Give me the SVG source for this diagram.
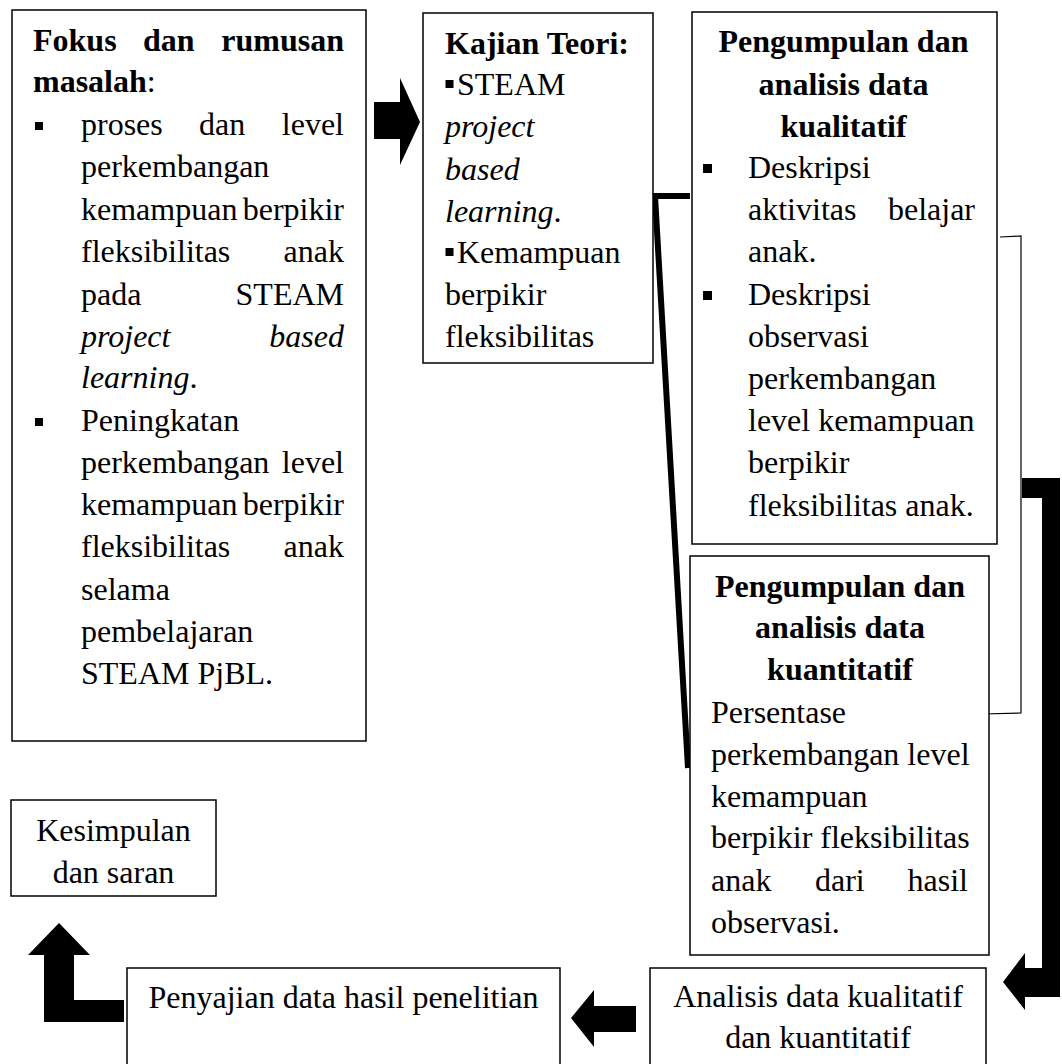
<svg xmlns="http://www.w3.org/2000/svg" width="1062" height="1064" viewBox="0 0 1062 1064">
<style>
.t{font-family:"Liberation Serif","Times New Roman",serif;font-size:32px;fill:#000}
.b{font-weight:bold}
.i{font-style:italic}
.e{text-anchor:end}
.m{text-anchor:middle}
.box{fill:#fff;stroke:#000;stroke-width:1.5}
.bul{fill:#000}
.thick{fill:none;stroke:#000;stroke-width:6;stroke-linejoin:miter}
.thin{fill:none;stroke:#000;stroke-width:1.2}
.arr{fill:#000}
</style>
<rect width="1062" height="1064" fill="#fff"/>

<g id="connectors">
  <polygon class="arr" points="374,102 400,102 400,78 420,122 400,165 400,139 374,139"/>
  <path class="thick" d="M690,196 L655,196 L688,768"/>
  <polyline class="thin" points="1000,237 1021,236 1021,713 982,714"/>
  <polygon class="arr" points="1022,478 1060,478 1060,997 1025,997 1025,1010 1003,982 1025,953 1025,968 1042,968 1042,498 1022,498"/>
  <polygon class="arr" points="636,1006 594,1006 594,990 571,1018 594,1047 594,1032 636,1032"/>
  <polygon class="arr" points="59,923 90,955 74,955 74,1000 124,1000 124,1022 44,1022 44,955 28,955"/>
</g>

<g id="node-fokus">
  <rect class="box" x="12" y="10" width="354" height="731"/>
  <text class="t b" x="33" y="51">Fokus</text>
  <text class="t b" x="143" y="51">dan</text>
  <text class="t b e" x="344" y="51">rumusan</text>
  <text class="t" x="33" y="92"><tspan class="b">masalah</tspan>:</text>
  <rect class="bul" x="35" y="122" width="8" height="8"/>
  <text class="t" x="81" y="135">proses</text>
  <text class="t" x="199" y="135">dan</text>
  <text class="t e" x="344" y="135">level</text>
  <text class="t" x="81" y="177">perkembangan</text>
  <text class="t" x="81" y="220">kemampuan</text>
  <text class="t e" x="344" y="220">berpikir</text>
  <text class="t" x="81" y="262">fleksibilitas</text>
  <text class="t e" x="344" y="262">anak</text>
  <text class="t" x="81" y="305">pada</text>
  <text class="t e" x="344" y="305">STEAM</text>
  <text class="t i" x="81" y="347">project</text>
  <text class="t i e" x="344" y="347">based</text>
  <text class="t" x="81" y="388"><tspan class="i">learning</tspan>.</text>
  <rect class="bul" x="35" y="418" width="8" height="8"/>
  <text class="t" x="81" y="431">Peningkatan</text>
  <text class="t" x="81" y="473">perkembangan</text>
  <text class="t e" x="344" y="473">level</text>
  <text class="t" x="81" y="515">kemampuan</text>
  <text class="t e" x="344" y="515">berpikir</text>
  <text class="t" x="81" y="557">fleksibilitas</text>
  <text class="t e" x="344" y="557">anak</text>
  <text class="t" x="81" y="600">selama</text>
  <text class="t" x="81" y="642">pembelajaran</text>
  <text class="t" x="81" y="684">STEAM PjBL.</text>
</g>

<g id="node-kajian">
  <rect class="box" x="423" y="13" width="230" height="350"/>
  <text class="t b" x="445" y="54">Kajian Teori:</text>
  <rect class="bul" x="445.5" y="80" width="8" height="8"/>
  <text class="t" x="457" y="95">STEAM</text>
  <text class="t i" x="445" y="137">project</text>
  <text class="t i" x="445" y="180">based</text>
  <text class="t" x="445" y="222"><tspan class="i">learning</tspan>.</text>
  <rect class="bul" x="445.5" y="248" width="8" height="8"/>
  <text class="t" x="457" y="263">Kemampuan</text>
  <text class="t" x="445" y="305">berpikir</text>
  <text class="t" x="445" y="347">fleksibilitas</text>
</g>

<g id="node-kualitatif">
  <rect class="box" x="692" y="12" width="305" height="532"/>
  <text class="t b m" x="843.5" y="52">Pengumpulan dan</text>
  <text class="t b m" x="843.5" y="95">analisis data</text>
  <text class="t b m" x="843.5" y="137">kualitatif</text>
  <rect class="bul" x="703" y="164" width="9" height="9"/>
  <text class="t" x="748" y="178">Deskripsi</text>
  <text class="t" x="748" y="220">aktivitas</text>
  <text class="t e" x="975" y="220">belajar</text>
  <text class="t" x="748" y="262">anak.</text>
  <rect class="bul" x="703" y="291" width="9" height="9"/>
  <text class="t" x="748" y="305">Deskripsi</text>
  <text class="t" x="748" y="347">observasi</text>
  <text class="t" x="748" y="389">perkembangan</text>
  <text class="t" x="748" y="431">level kemampuan</text>
  <text class="t" x="748" y="473">berpikir</text>
  <text class="t" x="748" y="516">fleksibilitas anak.</text>
</g>

<g id="node-kuantitatif">
  <rect class="box" x="690" y="556" width="299" height="399"/>
  <text class="t b m" x="840" y="597">Pengumpulan dan</text>
  <text class="t b m" x="840" y="638">analisis data</text>
  <text class="t b m" x="840" y="680">kuantitatif</text>
  <text class="t" x="711" y="723">Persentase</text>
  <text class="t" x="711" y="765">perkembangan level</text>
  <text class="t" x="711" y="807">kemampuan</text>
  <text class="t" x="711" y="848">berpikir fleksibilitas</text>
  <text class="t" x="711" y="891">anak</text>
  <text class="t" x="815" y="891">dari</text>
  <text class="t e" x="968" y="891">hasil</text>
  <text class="t" x="711" y="933">observasi.</text>
</g>

<g id="node-analisis">
  <rect class="box" x="650" y="968" width="336" height="120"/>
  <text class="t m" x="818" y="1007">Analisis data kualitatif</text>
  <text class="t m" x="818" y="1048">dan kuantitatif</text>
</g>

<g id="node-penyajian">
  <rect class="box" x="127" y="968" width="433" height="120"/>
  <text class="t m" x="343.5" y="1008">Penyajian data hasil penelitian</text>
</g>

<g id="node-kesimpulan">
  <rect class="box" x="11" y="800" width="205" height="96"/>
  <text class="t m" x="113.5" y="841">Kesimpulan</text>
  <text class="t m" x="113.5" y="883">dan saran</text>
</g>
</svg>
